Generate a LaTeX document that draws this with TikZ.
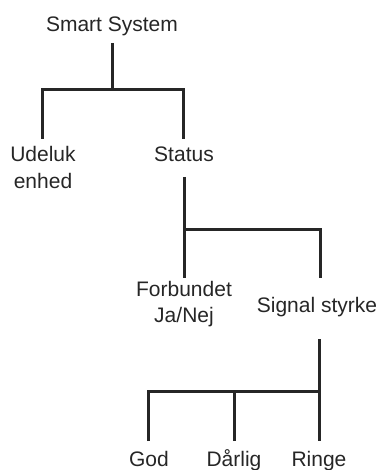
\documentclass[tikz,border=0pt]{standalone}
\usepackage{fontspec}
\setmainfont{Liberation Sans}
\begin{document}
\begin{tikzpicture}[x=1pt,y=-1pt,
  lbl/.style={inner sep=0pt,anchor=base,align=center,font=\fontsize{21}{26}\selectfont,text=black!85},
  br/.style={line width=3pt,draw=black!85}]
\useasboundingbox (0,0) rectangle (380,470);
% text nodes (base anchor = baseline of last line)
\node[lbl] (ss) at (112,32) {Smart System};
\node[lbl] (ud) at (43,188) {Udeluk\\enhed};
\node[lbl] (st) at (184,162) {Status};
\node[lbl] (fb) at (184,322) {Forbundet\\Ja/Nej};
\node[lbl] (sg) at (317,312) {Signal styrke};
\node[lbl] (gd) at (149,466) {God};
\node[lbl] (da) at (234,466) {Dårlig};
\node[lbl] (ri) at (319,466) {Ringe};
% connector points
\coordinate (s0) at (112,43);
\coordinate (j1) at (112,90);
\coordinate (u0) at (42,139);
\coordinate (t0) at (183,139);
\coordinate (t1) at (184,177);
\coordinate (j2) at (184,229);
\coordinate (f0) at (184,278);
\coordinate (g0) at (320,278);
\coordinate (g1) at (319,339);
\coordinate (j3) at (319,391);
\coordinate (d1) at (148,441);
\coordinate (d2) at (234,441);
\coordinate (d3) at (319,441);
% connectors
\draw[br] (s0) -- (j1);
\draw[br] (u0) |- (j1) -| (t0);
\draw[br] (t1) -- (f0);
\draw[br] (j2) -| (g0);
\draw[br] (g1) -- (d3);
\draw[br] (d1) |- (j3);
\draw[br] (d2) -- (d2 |- j3);
\end{tikzpicture}
\end{document}
